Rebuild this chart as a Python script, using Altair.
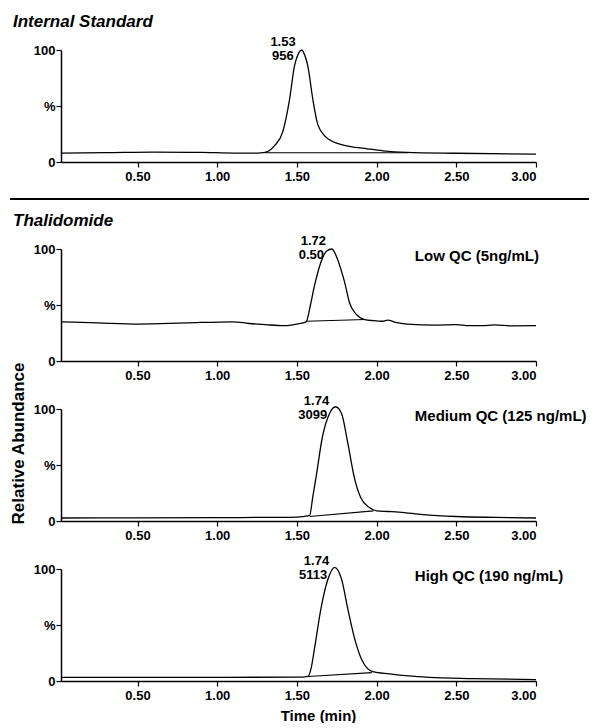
import altair as alt
import pandas as pd

FONT = "Liberation Sans"

# ---- Internal Standard trace ----
is_t = [0.02, 0.30, 0.60, 0.90, 1.10, 1.25, 1.30, 1.36, 1.41, 1.454, 1.485, 1.51, 1.53, 1.55, 1.568, 1.60, 1.63, 1.684, 1.746, 1.83, 1.94, 2.04, 2.19, 2.50, 3.00]
is_v = [8.0, 8.3, 8.8, 8.6, 8.0, 8.0, 8.6, 14.6, 26.5, 56, 86, 97, 100, 95, 86, 56, 34, 22, 17, 14, 11.8, 10, 8.6, 7.8, 7.0]
is_bt = [1.30, 2.20]
is_bv = [8.3, 8.3]

# ---- Low QC trace ----
lo_t = [0.02, 0.25, 0.51, 0.80, 1.10, 1.20, 1.30, 1.42, 1.50, 1.558, 1.585, 1.61, 1.65, 1.685, 1.72, 1.75, 1.78, 1.80, 1.83, 1.87, 1.925, 1.98, 2.04, 2.07, 2.12, 2.19, 2.37, 2.50, 2.58, 2.66, 2.74, 2.85, 3.00]
lo_v = [35, 34, 33, 34, 35, 33.5, 32.5, 31.5, 33, 35, 50, 67, 88, 98, 100, 92.6, 80, 70, 52, 42, 37, 36, 35.5, 36.5, 34.5, 33, 32, 32.5, 31.5, 31.5, 32.2, 31.3, 31.5]
lo_bt = [1.56, 1.93]
lo_bv = [35.5, 37.0]

# ---- Medium QC trace ----
md_t = [0.02, 0.50, 1.00, 1.30, 1.45, 1.55, 1.58, 1.60, 1.62, 1.66, 1.705, 1.742, 1.78, 1.82, 1.86, 1.90, 1.955, 2.00, 2.07, 2.14, 2.29, 2.50, 2.75, 3.00]
md_v = [2.7, 2.8, 3.0, 3.2, 3.3, 4.2, 5.0, 22, 39, 75, 96, 102, 96, 69, 39, 21, 12, 9, 8.5, 8, 5.7, 4, 3.2, 2.7]
md_bt = [1.58, 1.98]
md_bv = [4.0, 9.0]

# ---- High QC trace ----
hi_t = [0.02, 0.50, 1.00, 1.50, 1.57, 1.59, 1.61, 1.65, 1.695, 1.736, 1.78, 1.82, 1.86, 1.91, 1.976, 2.08, 2.20, 2.33, 2.60, 3.00]
hi_v = [3.3, 3.3, 3.3, 3.4, 4.2, 12, 28.6, 64, 91, 101.5, 91, 64, 39, 18, 8.3, 6.3, 4.5, 3.3, 2.2, 1.2]
hi_bt = [1.57, 1.97]
hi_bv = [4.0, 7.5]

peak_times = [1.53, 1.72, 1.74, 1.74]
peak_line1 = ["1.53", "1.72", "1.74", "1.74"]
peak_line2 = ["956", "0.50", "3099", "5113"]
samples = ["", "Low QC (5ng/mL)", "Medium QC (125 ng/mL)", "High QC (190 ng/mL)"]
sample_t = 2.24
sample_v = 94

x_ticks = [0.5, 1.0, 1.5, 2.0, 2.5, 3.0]
y_ticks = [0, 50, 100]

W, H = 475, 112


def panel(t, v, bt, bv, i, title=None, xtitle=None, ytitle=None, sep=False):
    df = pd.DataFrame({"t": t, "v": v})
    dfb = pd.DataFrame({"t": bt, "v": bv})
    xax = dict(values=x_ticks, format=".2f", tickSize=5, labelPadding=3,
               domainWidth=1.5, tickWidth=1.2, title=None)
    if xtitle:
        xax.update(title=xtitle, titleX=257, titleAlign="center", titlePadding=6,
                   titleFontSize=15)
    yax = dict(values=y_ticks, labelExpr="datum.value == 50 ? '%' : datum.label",
               tickSize=5, labelPadding=1, domainWidth=1.5, tickWidth=1.2, title=None)
    if ytitle:
        yax.update(title=ytitle, titleX=-34, titleY=34, titleAngle=270,
                   titleAlign="center", titleBaseline="bottom", titleFontSize=17)
    x = alt.X("t:Q", scale=alt.Scale(domain=[0.02, 3.0], nice=False, zero=False),
              axis=alt.Axis(**xax))
    y = alt.Y("v:Q", scale=alt.Scale(domain=[0, 100], nice=False, zero=False),
              axis=alt.Axis(**yax))
    trace = alt.Chart(df).mark_line(color="black", strokeWidth=1.3,
                                    interpolate="monotone").encode(x=x, y=y)
    base = alt.Chart(dfb).mark_line(color="black", strokeWidth=1.1).encode(x="t:Q", y="v:Q")
    lab = pd.DataFrame({"t": [peak_times[i]], "v": [100],
                        "a": [peak_line1[i]], "b": [peak_line2[i]]})
    l1 = alt.Chart(lab).mark_text(align="right", baseline="middle", dx=-6, dy=-8,
                                  font=FONT, fontWeight="bold", fontSize=13,
                                  color="black").encode(x="t:Q", y="v:Q", text="a:N")
    l2 = alt.Chart(lab).mark_text(align="right", baseline="middle", dx=-8, dy=6,
                                  font=FONT, fontWeight="bold", fontSize=13,
                                  color="black").encode(x="t:Q", y="v:Q", text="b:N")
    layers = [trace, base, l1, l2]
    if samples[i]:
        sdf = pd.DataFrame({"t": [sample_t], "v": [sample_v], "s": [samples[i]]})
        layers.append(alt.Chart(sdf).mark_text(align="left", baseline="middle",
                                               font=FONT, fontWeight="bold", fontSize=15,
                                               color="black").encode(x="t:Q", y="v:Q", text="s:N"))
    if sep:
        layers.append(alt.Chart(pd.DataFrame({"k": [0]})).mark_rule(
            color="black", strokeWidth=2).encode(
            x=alt.value(-51), x2=alt.value(528), y=alt.value(149)))
    props = dict(width=W, height=H)
    if title:
        props["title"] = alt.TitleParams(title, anchor="start", frame="group", dx=-48,
                                         offset=5, font=FONT, fontSize=17,
                                         fontWeight="bold", fontStyle="italic",
                                         color="black")
    return alt.layer(*layers).properties(**props)


p1 = panel(is_t, is_v, is_bt, is_bv, 0, title="Internal Standard", sep=True)
p2 = panel(lo_t, lo_v, lo_bt, lo_bv, 1, title="Thalidomide")
p3 = panel(md_t, md_v, md_bt, md_bv, 2, ytitle="Relative Abundance")
p4 = panel(hi_t, hi_v, hi_bt, hi_bv, 3, xtitle="Time (min)")

inner = alt.vconcat(p2, p3, p4, spacing=48, bounds="flush")
chart = alt.vconcat(p1, inner, spacing=87, bounds="flush").properties(
    padding={"left": 0, "top": 5, "right": 0, "bottom": 0}
).configure_view(stroke=None).configure_axis(
    grid=False, domainColor="black", tickColor="black", labelColor="black",
    labelFont=FONT, labelFontWeight="bold", labelFontSize=13,
    titleFont=FONT, titleFontWeight="bold", titleColor="black"
)

chart.save("out.html", embed_options={"renderer": "svg", "actions": False})
